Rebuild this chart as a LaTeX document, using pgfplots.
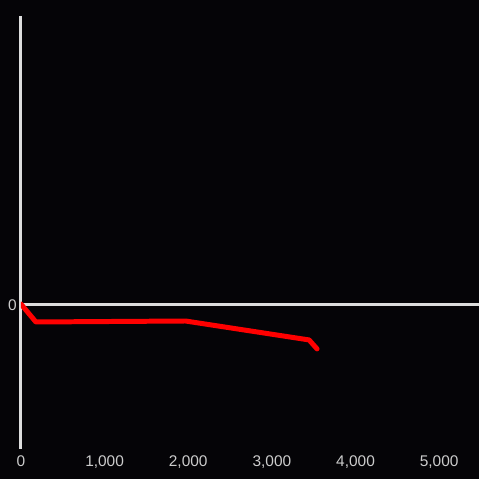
\documentclass[border=0pt]{standalone}
\usepackage{pgfplots}
\pgfplotsset{compat=1.18}
\usepackage{fontspec}
\setmainfont{Liberation Sans}
\definecolor{bg}{HTML}{050407}
\definecolor{axcol}{HTML}{DDDDDD}
\definecolor{lbl}{HTML}{CCCCCC}
\begin{document}
\begin{tikzpicture}[x=1pt,y=1pt]
\fill[bg] (0,0) rectangle (480,480);
\begin{axis}[
  at={(21pt,30pt)}, anchor=south west,
  scale only axis, width=459pt, height=434pt,
  xmin=0, xmax=5470, ymin=-145, ymax=289,
  axis x line*=bottom, axis y line*=left,
  x axis line style={draw=none},
  y axis line style={draw=axcol, line width=3pt, -},
  xtick={0,1000,2000,3000,4000,5000},
  ytick=\empty,
  extra y ticks={0},
  extra y tick style={grid=major, major grid style={draw=axcol, line width=3pt}},
  major tick length=0pt,
  /pgf/number format/assume math mode=true,
  tick label style={font=\fontsize{15.5}{17}\selectfont, text=lbl},
  xticklabel style={inner sep=0pt, yshift=-6.5pt},
  yticklabel style={inner sep=0pt, xshift=-4pt, yshift=-1pt},
]
\addplot[red, line width=5pt, line join=round, line cap=round] coordinates {
(0,0) (179,-18) (1967,-17) (3445,-36) (3540,-45)};
\end{axis}
\end{tikzpicture}
\end{document}
